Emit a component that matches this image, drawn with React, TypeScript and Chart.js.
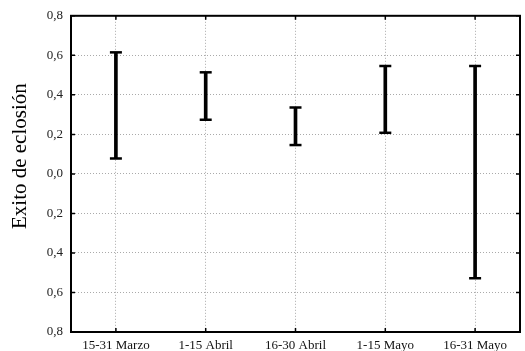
import React, { useEffect, useRef } from "react";
import { Chart, registerables } from "chart.js";

Chart.register(...registerables);

const categories = ["15-31 Marzo", "1-15 Abril", "16-30 Abril", "1-15 Mayo", "16-31 Mayo"];
const lowValues = [0.078, 0.274, 0.146, 0.208, -0.528];
const highValues = [0.615, 0.514, 0.336, 0.546, 0.546];
const yTicks = [-0.8, -0.6, -0.4, -0.2, 0, 0.2, 0.4, 0.6, 0.8];
const yTitle = "Exito de eclosión";

const FONT = "'Liberation Serif', 'Times New Roman', serif";

const framePlugin = {
  id: "frameAndCaps",
  afterDatasetsDraw(chart: any) {
    const { ctx, chartArea, scales } = chart;
    const x = scales.x;
    const y = scales.y;
    ctx.save();
    // caps
    ctx.strokeStyle = "#000";
    ctx.lineWidth = 2.5;
    categories.forEach((_c, i) => {
      const px = x.getPixelForValue(i);
      [lowValues[i], highValues[i]].forEach((v) => {
        const py = y.getPixelForValue(v);
        ctx.beginPath();
        ctx.moveTo(px - 6, py);
        ctx.lineTo(px + 6, py);
        ctx.stroke();
      });
    });
    // inner tick marks
    ctx.lineWidth = 1.5;
    categories.forEach((_c, i) => {
      const px = x.getPixelForValue(i);
      ctx.beginPath();
      ctx.moveTo(px, chartArea.top);
      ctx.lineTo(px, chartArea.top + 4);
      ctx.moveTo(px, chartArea.bottom);
      ctx.lineTo(px, chartArea.bottom - 4);
      ctx.stroke();
    });
    yTicks.forEach((v) => {
      const py = y.getPixelForValue(v);
      ctx.beginPath();
      ctx.moveTo(chartArea.left, py);
      ctx.lineTo(chartArea.left + 4, py);
      ctx.moveTo(chartArea.right, py);
      ctx.lineTo(chartArea.right - 4, py);
      ctx.stroke();
    });
    // frame
    ctx.lineWidth = 2;
    ctx.strokeRect(chartArea.left, chartArea.top, chartArea.right - chartArea.left, chartArea.bottom - chartArea.top);
    // y title
    ctx.translate(26, y.getPixelForValue(0.09));
    ctx.rotate(-Math.PI / 2);
    ctx.fillStyle = "#000";
    ctx.font = `21px ${FONT}`;
    ctx.textAlign = "center";
    ctx.textBaseline = "alphabetic";
    ctx.fillText(yTitle, 0, 0);
    ctx.restore();
  },
};

export default function App() {
  const ref = useRef<HTMLCanvasElement>(null);
  useEffect(() => {
    document.body.style.margin = "0";
    const chart = new Chart(ref.current!, {
      type: "bar",
      data: {
        labels: categories,
        datasets: [
          {
            data: lowValues.map((l, i) => [l, highValues[i]]) as any,
            backgroundColor: "#000",
            borderWidth: 0,
            barThickness: 3,
          },
        ],
      },
      options: {
        animation: false,
        responsive: false,
        maintainAspectRatio: false,
        layout: { padding: { top: 15, right: 5, left: 0, bottom: 0 } },
        plugins: { legend: { display: false }, tooltip: { enabled: false } },
        scales: {
          x: {
            offset: true,
            grid: { offset: false, color: "#aaa", lineWidth: 1, drawTicks: false },
            border: { display: true, color: "#000", width: 2, dash: [1, 2] },
            ticks: { color: "#111", font: { family: FONT, size: 13 }, padding: 6, maxRotation: 0 },
            afterFit: (s: any) => { s.height = 19; },
          },
          y: {
            min: -0.8,
            max: 0.8,
            afterBuildTicks: (s: any) => { s.ticks = yTicks.map((v) => ({ value: v })); },
            grid: { color: "#aaa", lineWidth: 1, drawTicks: false },
            border: { display: true, color: "#000", width: 2, dash: [1, 2] },
            ticks: {
              color: "#222",
              font: { family: FONT, size: 13 },
              padding: 8,
              callback: (v: any) => Math.abs(Number(v)).toFixed(1).replace(".", ","),
            },
            afterFit: (s: any) => { s.width = 71; },
          },
        },
      },
      plugins: [framePlugin],
    });
    return () => chart.destroy();
  }, []);
  return (
    <div style={{ width: 525, height: 351 }}>
      <canvas ref={ref} width={525} height={351} style={{ display: "block" }} />
    </div>
  );
}
